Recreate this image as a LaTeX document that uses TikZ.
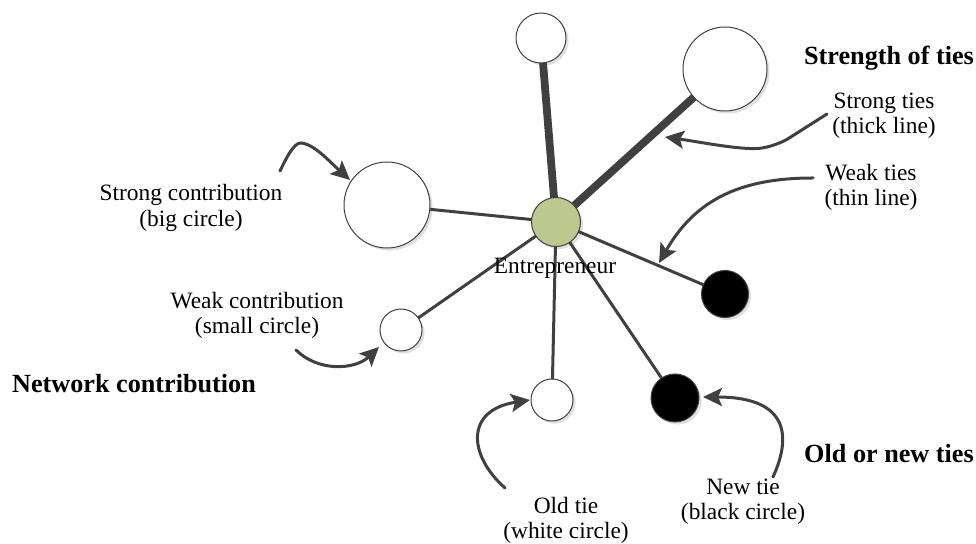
\documentclass[tikz,border=0pt]{standalone}
\usepackage{fontspec}
\setmainfont{Liberation Serif}
\usetikzlibrary{arrows.meta,shadows}
\definecolor{tiegray}{RGB}{64,64,64}
\definecolor{entgreen}{RGB}{187,201,142}
\begin{document}
\begin{tikzpicture}[x=0.5pt,y=-0.5pt,
  actor/.style={circle,draw=tiegray,line width=0.5pt,fill=white,inner sep=0pt,outer sep=0pt,
    drop shadow={shadow xshift=1.3pt,shadow yshift=-1.3pt,fill=black,opacity=0.12}},
  newactor/.style={actor,fill=black},
  weaktie/.style={draw=tiegray,line width=1.5pt},
  strongtie/.style={draw=tiegray,line width=3.9pt},
  callout/.style={draw=tiegray,line width=1.5pt,line cap=round,
    -{Stealth[length=9.5pt,width=9pt,inset=2pt]}},
  note/.style={align=center,inner sep=0pt,font=\fontsize{11.7}{12.6}\selectfont},
  heading/.style={inner sep=0pt,font=\fontsize{13.1}{14}\selectfont\bfseries}]
\useasboundingbox (0,0) rectangle (976,544);

% actors
\node[actor,fill=entgreen,minimum size=24.5pt] (ent) at (556,222) {};
\node[actor,minimum size=25pt] (top) at (541,38) {};
\node[actor,minimum size=42pt] (tr) at (725,69) {};
\node[actor,minimum size=43pt] (bigl) at (387,205) {};
\node[actor,minimum size=21pt] (smalll) at (401,330) {};
\node[actor,minimum size=21pt] (botw) at (552,400) {};
\node[newactor,minimum size=24pt] (botb) at (675,398) {};
\node[newactor,minimum size=23.5pt] (rightb) at (725,294) {};

% ties
\draw[strongtie] (ent) -- (top);
\draw[strongtie] (ent) -- (tr);
\draw[weaktie] (ent) -- (bigl);
\draw[weaktie] (ent) -- (smalll);
\draw[weaktie] (ent) -- (botw);
\draw[weaktie] (ent) -- (botb);
\draw[weaktie] (ent) -- (rightb);

% labels
\node[note] (entlbl) at (555,268) {Entrepreneur};
\node[heading] (hstr) at (889,58) {Strength of ties};
\node[heading] (hnet) at (134,384) {Network contribution};
\node[heading] (hold) at (889,454) {Old or new ties};
\node[note] (lstrong) at (884,116) {Strong ties\\(thick line)};
\node[note] (lweak) at (871,187) {Weak ties\\(thin line)};
\node[note] (lbig) at (191,208) {Strong contribution\\(big circle)};
\node[note] (lsmall) at (257,315) {Weak contribution\\(small circle)};
\node[note] (lold) at (566,520) {Old tie\\(white circle)};
\node[note] (lnew) at (743,502) {New tie\\(black circle)};

% callout arrow ends
\coordinate (sA) at (827,114);
\coordinate (sB) at (665,137);
\coordinate (wA) at (813,178);
\coordinate (wB) at (659,263);
\coordinate (bA) at (280,171);
\coordinate (bB) at (350,180);
\coordinate (cA) at (296,350);
\coordinate (cB) at (379,347);
\coordinate (oA) at (505,488);
\coordinate (oB) at (530,400);
\coordinate (nA) at (773,477);
\coordinate (nB) at (703,397);

% callouts
\draw[callout,rounded corners=8pt] (sA) -- (775,147) .. controls (740,150) and (700,142) .. (sB);
\draw[callout] (wA) .. controls (740,178) and (695,200) .. (wB);
\draw[callout] (bA) .. controls (290,150) and (296,142) .. (302,143) .. controls (315,145) and (330,162) .. (bB);
\draw[callout] (cA) .. controls (318,372) and (355,370) .. (cB);
\draw[callout] (oA) .. controls (468,455) and (465,410) .. (oB);
\draw[callout] (nA) .. controls (790,440) and (792,397) .. (nB);
\end{tikzpicture}
\end{document}
